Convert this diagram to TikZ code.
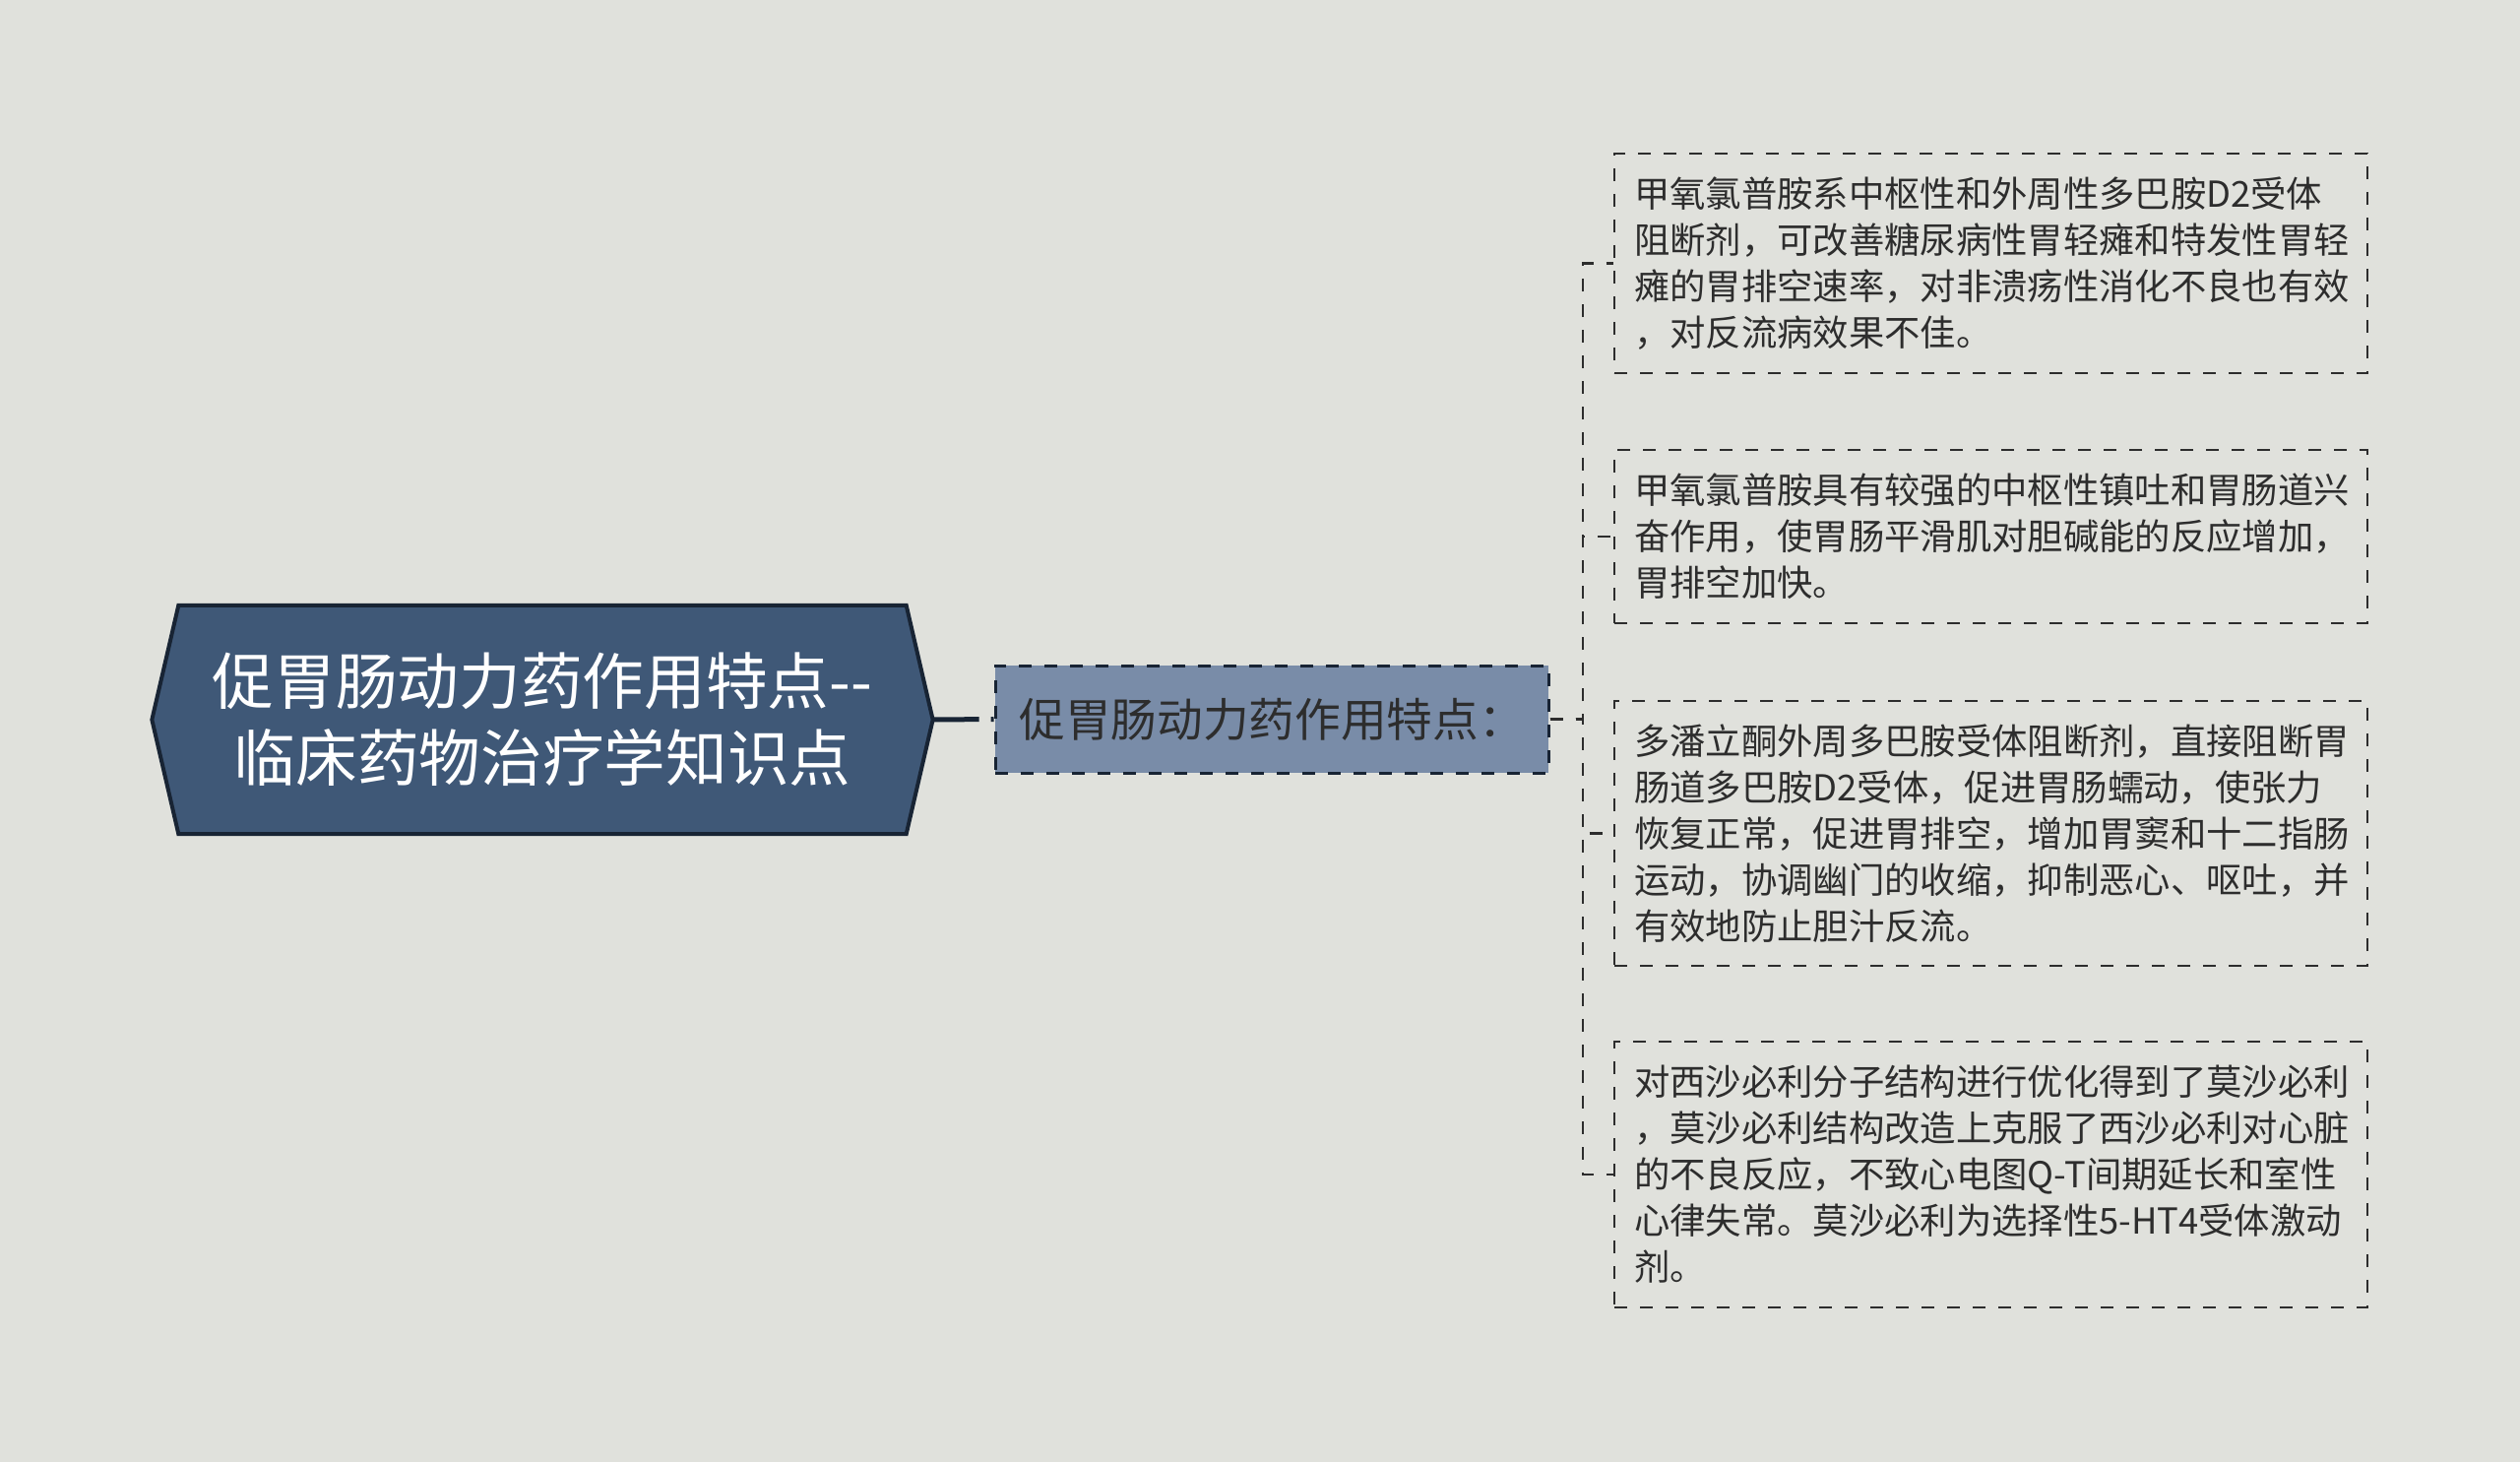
\documentclass[tikz,border=0pt]{standalone}
\usepackage{fontspec}
\setmainfont{Noto Sans CJK SC}
\definecolor{bg}{RGB}{224,225,220}
\definecolor{rootfill}{RGB}{63,88,119}
\definecolor{rootdraw}{RGB}{24,36,52}
\definecolor{childfill}{RGB}{121,140,168}
\definecolor{ink}{RGB}{45,45,45}
\begin{document}
\begin{tikzpicture}[x=0.3pt,y=-0.3pt,
  rootbox/.style={draw=none,inner sep=0pt,minimum width=237.6pt,minimum height=69.3pt},
  rootshape/.style={fill=rootfill,draw=rootdraw,line width=1.2pt,line join=miter},
  roottext/.style={text=white,align=center,font=\fontsize{18.8pt}{23.4pt}\selectfont,inner sep=0pt},
  childbox/.style={fill=childfill,draw=rootdraw,line width=0.9pt,dash pattern=on 3.9pt off 3.9pt,
    minimum width=168.6pt,minimum height=32.7pt,inner sep=0pt,text=ink,
    font=\fontsize{14pt}{17pt}\selectfont},
  leafbox/.style={draw=ink,line width=0.7pt,dash pattern=on 3.9pt off 3.9pt,text=ink,
    text width=217.5pt,inner xsep=6pt,inner ysep=0pt,align=left,
    font=\fontsize{10.9pt}{14.1pt}\selectfont},
  conn/.style={draw=ink,line width=0.75pt,dash pattern=on 3.9pt off 3.9pt},
  rootconn/.style={draw=rootdraw,line width=1.5pt,dash pattern=on 14.1pt off 3.6pt on 2.4pt off 10pt}
]
\useasboundingbox[fill=bg] (0,0) rectangle (2560,1485);

\node[rootbox] (root) at (551,731) {};
\draw[rootshape] ([xshift=8.1pt]root.north west) -- ([xshift=-8.1pt]root.north east) -- (root.east)
  -- ([xshift=-8.1pt]root.south east) -- ([xshift=8.1pt]root.south west) -- (root.west) -- cycle;
\node[roottext] (roott) at (root.center) {促胃肠动力药作用特点{-}{-}\\临床药物治疗学知识点};

\node[childbox] (child) at (1292,730.5) {促胃肠动力药作用特点：};

\node[leafbox,minimum height=66.9pt] (l1) at (2022.5,267.5) {甲氧氯普胺系中枢性和外周性多巴胺D2受体\\阻断剂，可改善糖尿病性胃轻瘫和特发性胃轻\\瘫的胃排空速率，对非溃疡性消化不良也有效\\，对反流病效果不佳。};
\node[leafbox,minimum height=52.8pt] (l2) at (2022.5,545) {甲氧氯普胺具有较强的中枢性镇吐和胃肠道兴\\奋作用，使胃肠平滑肌对胆碱能的反应增加，\\胃排空加快。};
\node[leafbox,minimum height=80.7pt] (l3) at (2022.5,846.5) {多潘立酮外周多巴胺受体阻断剂，直接阻断胃\\肠道多巴胺D2受体，促进胃肠蠕动，使张力\\恢复正常，促进胃排空，增加胃窦和十二指肠\\运动，协调幽门的收缩，抑制恶心、呕吐，并\\有效地防止胆汁反流。};
\node[leafbox,minimum height=81pt] (l4) at (2022.5,1193) {对西沙必利分子结构进行优化得到了莫沙必利\\，莫沙必利结构改造上克服了西沙必利对心脏\\的不良反应，不致心电图Q-T间期延长和室性\\心律失常。莫沙必利为选择性5-HT4受体激动\\剂。};

\draw[rootconn] (root.east) -- (child.west);
\coordinate (trunk) at (1608,730.5);
\foreach \l in {l1,l2,l3,l4}{
  \draw[conn] (child.east) -- (trunk) |- (\l.west);
}
\end{tikzpicture}
\end{document}
